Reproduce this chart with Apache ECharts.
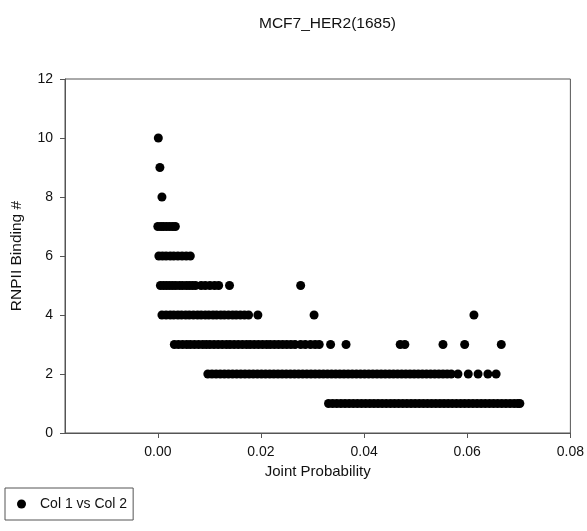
<!DOCTYPE html>
<html>
<head>
<meta charset="utf-8">
<script src="https://cdn.jsdelivr.net/npm/echarts@6/dist/echarts.min.js"></script>
<style>html,body{margin:0;padding:0;background:#fff;}#c{width:587px;height:531px;}</style>
</head>
<body>
<div id="c"></div>
<script>
var titleText = 'MCF7_HER2(1685)';
var xName = 'Joint Probability';
var yName = 'RNPII Binding #';
var seriesName = 'Col 1 vs Col 2';
var xTicks = [0, 0.02, 0.04, 0.06, 0.08];
var yTicks = [0, 2, 4, 6, 8, 10, 12];

var row10 = [0.0001];
var row9 = [0.0004];
var row8 = [0.0008];
var row7 = [0.0000, 0.0006, 0.0011, 0.0017, 0.0023, 0.0029, 0.0034];
var row6 = [0.0002, 0.0009, 0.0016, 0.0024, 0.0031, 0.0039, 0.0047, 0.0055, 0.0063];
var row5 = [0.0005, 0.0011, 0.0017, 0.0023, 0.0029, 0.0035, 0.0042, 0.0048, 0.0055, 0.0061, 0.0067, 0.0073,
            0.0084, 0.0092, 0.0101, 0.0110, 0.0118, 0.0139, 0.0277];
var row4 = [0.0008, 0.0016, 0.0024, 0.0031, 0.0039, 0.0046, 0.0054, 0.0061, 0.0069, 0.0077, 0.0084, 0.0092,
            0.0099, 0.0107, 0.0114, 0.0122, 0.0129, 0.0137, 0.0145, 0.0152, 0.0160, 0.0168, 0.0176,
            0.0194, 0.0303, 0.0613];
var row3 = [0.0032, 0.0040, 0.0048, 0.0056, 0.0063, 0.0071, 0.0079, 0.0087, 0.0094, 0.0101, 0.0109, 0.0117,
            0.0125, 0.0133, 0.0140, 0.0148, 0.0156, 0.0164, 0.0172, 0.0179, 0.0187, 0.0195, 0.0203, 0.0211,
            0.0218, 0.0226, 0.0234, 0.0242, 0.0250, 0.0258, 0.0266, 0.0277, 0.0286, 0.0296, 0.0305, 0.0313,
            0.0335, 0.0365, 0.0470, 0.0479, 0.0553, 0.0595, 0.0666];
var row2 = [0.0097, 0.0105, 0.0113, 0.0121, 0.0129, 0.0137, 0.0145, 0.0153, 0.0161, 0.0169, 0.0177, 0.0185,
            0.0193, 0.0201, 0.0209, 0.0217, 0.0225, 0.0233, 0.0241, 0.0249, 0.0257, 0.0265, 0.0273, 0.0281,
            0.0289, 0.0297, 0.0305, 0.0313, 0.0321, 0.0329, 0.0337, 0.0345, 0.0353, 0.0361, 0.0369, 0.0377,
            0.0385, 0.0393, 0.0401, 0.0409, 0.0417, 0.0425, 0.0433, 0.0441, 0.0449, 0.0457, 0.0465, 0.0473,
            0.0481, 0.0489, 0.0497, 0.0505, 0.0513, 0.0521, 0.0529, 0.0537, 0.0545, 0.0553, 0.0561, 0.0569,
            0.0582, 0.0602, 0.0621, 0.0640, 0.0656];
var row1 = [0.0331, 0.0339, 0.0347, 0.0355, 0.0363, 0.0371, 0.0379, 0.0387, 0.0395, 0.0403, 0.0411, 0.0419,
            0.0427, 0.0435, 0.0443, 0.0451, 0.0459, 0.0467, 0.0475, 0.0483, 0.0491, 0.0499, 0.0507, 0.0515,
            0.0523, 0.0531, 0.0539, 0.0547, 0.0555, 0.0563, 0.0571, 0.0579, 0.0587, 0.0595, 0.0603, 0.0611,
            0.0619, 0.0627, 0.0635, 0.0643, 0.0651, 0.0659, 0.0667, 0.0675, 0.0683, 0.0691, 0.0698, 0.0702];

var rows = [[1, row1], [2, row2], [3, row3], [4, row4], [5, row5], [6, row6], [7, row7], [8, row8], [9, row9], [10, row10]];
var points = [];
rows.forEach(function (r) { r[1].forEach(function (x) { points.push([x, r[0]]); }); });

var axisCol = '#555';
var textCol = '#111';
var font = 'Liberation Sans, Arial, sans-serif';

var chart = echarts.init(document.getElementById('c'), null, {renderer: 'canvas'});
chart.setOption({
  animation: false,
  backgroundColor: '#fff',
  title: {
    text: titleText, left: 254, top: 11,
    textStyle: {fontFamily: font, fontSize: 15.5, fontWeight: 'normal', color: textCol}
  },
  grid: {left: 65, right: 14, top: 79, bottom: 98, show: true, borderColor: axisCol, borderWidth: 1, backgroundColor: 'transparent'},
  legend: {
    left: 5, top: 488, orient: 'horizontal',
    data: [{name: seriesName, icon: 'circle'}],
    itemWidth: 9, itemHeight: 9, itemGap: 10,
    padding: [9, 6, 9, 12],
    borderColor: axisCol, borderWidth: 1,
    textStyle: {fontFamily: font, fontSize: 14, color: textCol, padding: [0, 0, 0, 9]}
  },
  xAxis: {
    type: 'value', min: -0.018, max: 0.08,
    name: xName, nameLocation: 'middle', nameGap: 26,
    nameTextStyle: {fontFamily: font, fontSize: 15, color: textCol},
    axisLine: {show: true, onZero: false, lineStyle: {color: axisCol}},
    axisTick: {show: true, length: 5, inside: false, customValues: xTicks, lineStyle: {color: axisCol}},
    axisLabel: {customValues: xTicks, margin: 12, fontFamily: font, fontSize: 14, color: textCol,
      formatter: function (v) { return v.toFixed(2); }},
    splitLine: {show: false}
  },
  yAxis: {
    type: 'value', min: 0, max: 12, interval: 2,
    name: yName, nameLocation: 'middle', nameGap: 40,
    nameTextStyle: {fontFamily: font, fontSize: 15.5, color: textCol},
    axisLine: {show: true, onZero: false, lineStyle: {color: axisCol}},
    axisTick: {show: true, length: 5, inside: false, lineStyle: {color: axisCol}},
    axisLabel: {margin: 12, fontFamily: font, fontSize: 14, color: textCol},
    splitLine: {show: false}
  },
  series: [{
    name: seriesName, type: 'scatter', data: points,
    symbol: 'circle', symbolSize: 9,
    itemStyle: {color: '#000', opacity: 1}
  }]
});
</script>
</body>
</html>
